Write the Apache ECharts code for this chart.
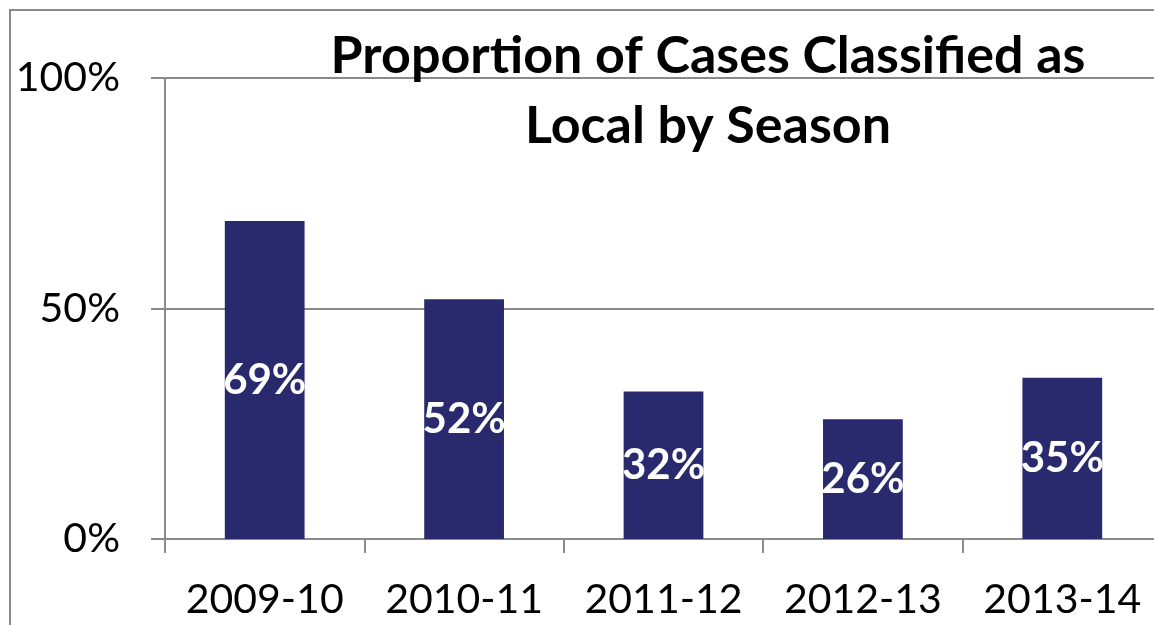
<!DOCTYPE html>
<html>
<head>
<meta charset="utf-8">
<script src="https://cdn.jsdelivr.net/npm/echarts@6/dist/echarts.min.js"></script>
<style>
html,body{margin:0;padding:0;background:#fff;overflow:hidden;}
#c{width:1170px;height:625px;}
</style>
</head>
<body>
<div id="c"></div>
<script>
const titleText = 'Proportion of Cases Classified as\nLocal by Season';
const categories = ['2009-10', '2010-11', '2011-12', '2012-13', '2013-14'];
const localPct = [69, 52, 32, 26, 35];
const yTicks = [0, 50, 100];

const chart = echarts.init(document.getElementById('c'));
const font = 'Lato';
chart.setOption({
  animation: false,
  backgroundColor: '#fff',
  graphic: [{
    type: 'rect',
    shape: {x: 10, y: 10, width: 1400, height: 900},
    style: {fill: 'none', stroke: '#8a8a8a', lineWidth: 2},
    silent: true, z: 0
  }],
  title: {
    text: titleText,
    left: 703, top: 16, textAlign: 'center',
    textStyle: {fontFamily: font, fontWeight: 'bold', fontSize: 52, lineHeight: 70, color: '#000'}
  },
  grid: {left: 165, top: 78, right: 8, height: 461},
  xAxis: {
    type: 'category',
    data: categories,
    axisLine: {show: true, lineStyle: {color: '#8a8a8a', width: 2}},
    axisTick: {show: true, interval: 0, length: 14, lineStyle: {color: '#8a8a8a', width: 2}},
    axisLabel: {interval: 0, fontFamily: font, fontSize: 41, color: '#000', margin: 40}
  },
  yAxis: {
    type: 'value', min: 0, max: 100, interval: 50,
    axisLine: {show: true, lineStyle: {color: '#8a8a8a', width: 2}},
    axisTick: {show: true, length: 14, lineStyle: {color: '#8a8a8a', width: 2}},
    splitLine: {show: true, lineStyle: {color: '#8a8a8a', width: 2}},
    axisLabel: {fontFamily: font, fontSize: 41, color: '#000', margin: 45,
      formatter: v => yTicks.includes(v) ? v + '%' : ''}
  },
  series: [{
    type: 'bar',
    data: localPct,
    barWidth: '40%',
    itemStyle: {color: '#29296E'},
    label: {show: true, position: 'inside', formatter: '{c}%',
      fontFamily: font, fontWeight: 'bold', fontSize: 42, color: '#fff'}
  }]
});
</script>
</body>
</html>
